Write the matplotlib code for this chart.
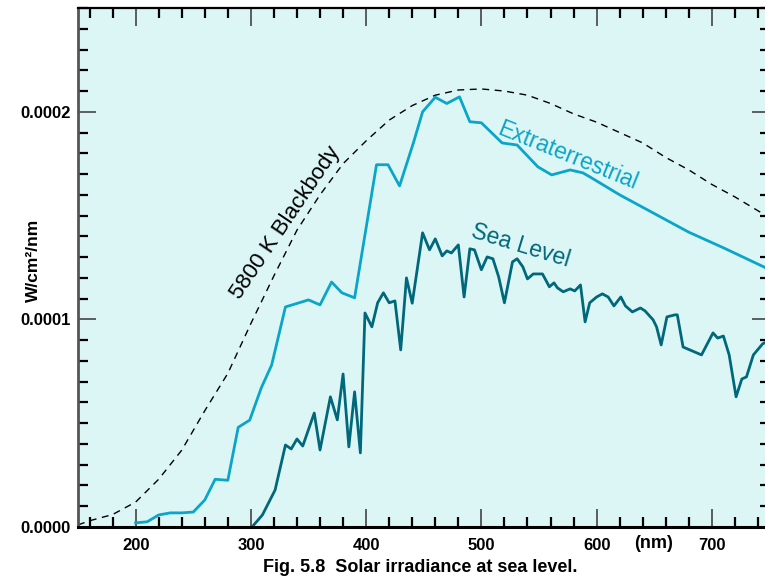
import numpy as np
import matplotlib
matplotlib.use("Agg")
import matplotlib.pyplot as plt
from matplotlib.ticker import MultipleLocator, FuncFormatter

plt.rcParams['font.family'] = ['Liberation Sans', 'DejaVu Sans']

# wavelengths in nm, irradiances in units of 1e-4 W/cm2/nm
bb_nm = [150, 160, 180, 200, 220, 240, 260, 280, 300, 320, 340, 360, 380, 400,
         420, 440, 460, 480, 500, 520, 540, 560, 580, 600, 620, 640, 660, 680,
         700, 720, 750]
bb_val = [0.01, 0.03, 0.06, 0.12, 0.23, 0.37, 0.56, 0.74, 0.98, 1.21, 1.43,
          1.60, 1.75, 1.86, 1.96, 2.03, 2.08, 2.105, 2.11, 2.10, 2.08, 2.04,
          1.99, 1.95, 1.90, 1.85, 1.78, 1.72, 1.65, 1.59, 1.49]

ext_nm = [200, 210, 220, 230, 240, 250, 260, 269, 280, 289, 299, 309, 318, 324,
          330, 350, 360, 370, 379, 390, 409, 419, 429, 441, 449, 460, 470, 481,
          490, 500, 518, 531, 549, 561, 577, 588, 594, 620, 650, 680, 710, 750]
ext_val = [0.02, 0.025, 0.058, 0.068, 0.068, 0.072, 0.13, 0.23, 0.225, 0.48,
           0.515, 0.67, 0.78, 0.92, 1.06, 1.094, 1.07, 1.18, 1.128, 1.104,
           1.745, 1.745, 1.643, 1.85, 2.0, 2.07, 2.04, 2.072, 1.952, 1.947,
           1.85, 1.84, 1.735, 1.696, 1.72, 1.706, 1.687, 1.60, 1.51, 1.42,
           1.345, 1.24]

sea_nm = [301, 310, 321, 330, 335, 340, 345, 355, 360, 369, 375, 380, 385, 390,
          395, 399, 405, 410, 415, 420, 425, 430, 435, 440, 449, 455, 460, 466,
          470, 474, 480, 485, 490, 494, 500, 505, 510, 515, 520, 527, 531, 536,
          540, 545, 553, 559, 563, 566, 571, 577, 581, 586, 590, 594, 600, 605,
          610, 615, 621, 625, 631, 638, 642, 649, 652, 656, 661, 668, 670, 675,
          691, 701, 705, 710, 715, 721, 726, 730, 736, 744, 750]
sea_val = [0.0, 0.058, 0.178, 0.395, 0.376, 0.424, 0.39, 0.549, 0.371, 0.627,
           0.516, 0.737, 0.386, 0.651, 0.357, 1.031, 0.964, 1.08, 1.128, 1.08,
           1.089, 0.853, 1.2, 1.078, 1.417, 1.335, 1.388, 1.306, 1.33, 1.32,
           1.359, 1.108, 1.34, 1.335, 1.239, 1.301, 1.292, 1.205, 1.08, 1.277,
           1.292, 1.253, 1.195, 1.219, 1.219, 1.157, 1.176, 1.152, 1.133,
           1.147, 1.137, 1.166, 0.988, 1.08, 1.108, 1.123, 1.108, 1.065, 1.108,
           1.065, 1.036, 1.055, 1.041, 0.998, 0.964, 0.877, 1.012, 1.022,
           1.022, 0.867, 0.829, 0.935, 0.91, 0.92, 0.829, 0.627, 0.713, 0.723,
           0.829, 0.882, 0.9]

x_ticks = [200, 300, 400, 500, 600, 700]
y_ticks = [0.0, 0.0001, 0.0002]

bg = '#dcf6f6'
c_ext = '#0aa5c8'
c_sea = '#00687a'

fig = plt.figure(figsize=(7.65, 5.81), dpi=100)
ax = fig.add_axes([78 / 765, 54 / 581, 691.5 / 765, 519 / 581])
ax.set_facecolor(bg)

ax.plot(bb_nm, np.array(bb_val) * 1e-4, color='black', lw=1.0,
        dashes=(5, 4))
ax.plot(ext_nm, np.array(ext_val) * 1e-4, color=c_ext, lw=2.0)
ax.plot(sea_nm, np.array(sea_val) * 1e-4, color=c_sea, lw=2.0)

ax.set_xlim(150, 750)
ax.set_ylim(0, 0.00025)

# ticks on all four sides, pointing in
ax.xaxis.set_minor_locator(MultipleLocator(20))
ax.yaxis.set_minor_locator(MultipleLocator(0.00001))
ax.set_xticks(x_ticks)
ax.set_yticks(y_ticks)
ax.yaxis.set_major_formatter(FuncFormatter(lambda v, p: '%.4f' % v))
ax.tick_params(which='both', direction='in', top=True, right=True)
ax.tick_params(which='major', length=13, width=1.2, color='#444444')
ax.tick_params(which='minor', length=7, width=1.6, color='black')
ax.tick_params(axis='x', which='major', pad=8, labelsize=12)
ax.tick_params(axis='y', which='major', pad=5, labelsize=12)
for lab in ax.get_xticklabels() + ax.get_yticklabels():
    lab.set_fontweight('bold')

ax.spines['left'].set_color('#555555')
ax.spines['left'].set_linewidth(2.0)
ax.spines['bottom'].set_linewidth(2.2)
ax.spines['top'].set_linewidth(1.6)

ax.set_ylabel('W/cm²/nm', fontsize=12.5, fontweight='bold')
ax.yaxis.set_label_coords(-0.054, 0.514)

# curve labels
ax.text(330, 0.0001465, '5800 K Blackbody', rotation=56, fontsize=16,
        ha='center', va='center', color='black')
ax.text(575, 0.000179, 'Extraterrestrial', rotation=-22, fontsize=16.5,
        ha='center', va='center', color=c_ext)
ax.text(534, 0.0001355, 'Sea Level', rotation=-17, fontsize=16.5,
        ha='center', va='center', color=c_sea)

fig.text(654 / 765, 1 - 543 / 581, '(nm)', fontsize=13, fontweight='bold',
         ha='center', va='center')
fig.text(420 / 765, 1 - 568 / 581, 'Fig. 5.8  Solar irradiance at sea level.',
         fontsize=13, fontweight='bold', ha='center', va='center')

fig.savefig('out.png', dpi=100)
